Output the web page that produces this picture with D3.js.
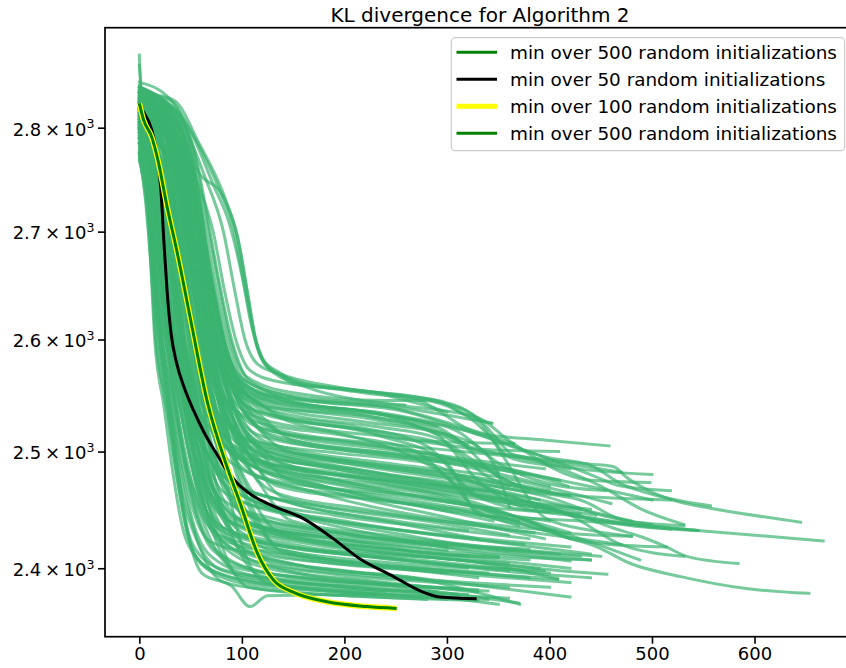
<!DOCTYPE html>
<html lang="en">
<head>
  <meta charset="utf-8">
  <title>KL divergence for Algorithm 2</title>
  <script src="https://d3js.org/d3.v7.min.js"></script>
  <style>
  body { margin: 0; background: #fff; }
  svg { font-family: "DejaVu Sans", sans-serif; }
  </style>
</head>
<body>
  <script>
  // runs: [iteration, KL divergence]
  var runsLow = [
    [[0,2772],[6,2730],[11,2670],[15,2600],[24,2540],[33,2480],[42,2435],[55,2410],[80,2395],[140,2385],[230,2378]],
    [[0,2778],[8,2725],[13,2650],[18,2590],[28,2530],[38,2470],[48,2425],[65,2400],[110,2386],[200,2380],[290,2376],[350,2370]],
    [[0,2785],[9,2730],[14,2660],[20,2600],[30,2545],[40,2490],[52,2440],[70,2410],[120,2392],[210,2384],[320,2378]],
    [[0,2790],[10,2735],[15,2670],[22,2610],[32,2555],[42,2500],[55,2450],[75,2415],[130,2395],[250,2385],[370,2371]],
    [[0,2795],[11,2740],[17,2670],[24,2610],[35,2560],[46,2510],[58,2460],[80,2420],[125,2400],[220,2390],[330,2380]],
    [[0,2800],[12,2745],[19,2680],[27,2620],[38,2570],[50,2515],[63,2465],[85,2425],[140,2405],[260,2393],[420,2376]],
    [[0,2780],[10,2720],[16,2640],[22,2580],[31,2530],[40,2470],[50,2420],[62,2395],[90,2385],[108,2368],[125,2377],[220,2378],[300,2374]],
    [[0,2808],[13,2750],[21,2680],[30,2610],[42,2560],[55,2505],[70,2455],[95,2420],[160,2402],[280,2390],[371,2370]],
    [[0,2775],[9,2722],[14,2650],[20,2590],[29,2540],[38,2480],[47,2430],[60,2405],[100,2390],[170,2383],[240,2380]],
    [[0,2812],[14,2755],[22,2690],[32,2620],[45,2565],[58,2510],[75,2460],[100,2430],[170,2410],[300,2398],[408,2391]],
    [[0,2798],[12,2742],[18,2675],[26,2615],[37,2565],[48,2515],[60,2465],[78,2425],[120,2408],[200,2398],[280,2390]],
    [[0,2788],[10,2730],[16,2655],[23,2595],[33,2545],[44,2490],[56,2445],[72,2415],[115,2398],[190,2390],[340,2381]],
    [[0,2802],[12,2748],[19,2675],[27,2612],[38,2562],[49,2508],[62,2458],[82,2422],[135,2400],[230,2388],[310,2383]],
    [[0,2770],[7,2725],[12,2660],[16,2598],[26,2545],[35,2488],[45,2438],[58,2412],[85,2398],[150,2390],[260,2385]]
  ];

  var runsLowMid = [
    [[0,2798],[8,2770],[18,2705],[25,2630],[35,2565],[47,2505],[60,2460],[80,2435],[150,2420],[250,2408],[350,2398],[440,2392]],
    [[0,2784],[7,2760],[16,2695],[23,2620],[33,2558],[45,2498],[58,2452],[78,2428],[140,2415],[240,2405],[320,2400]],
    [[0,2812],[10,2785],[21,2712],[29,2638],[39,2572],[51,2512],[65,2465],[88,2440],[160,2425],[260,2415],[380,2407]],
    [[0,2803],[12,2778],[24,2708],[32,2635],[43,2568],[55,2508],[70,2462],[92,2438],[170,2422],[280,2410],[410,2398],[456,2395]],
    [[0,2776],[6,2752],[14,2690],[20,2615],[30,2552],[41,2492],[53,2448],[70,2422],[130,2410],[220,2402],[300,2396]],
    [[0,2818],[14,2792],[27,2718],[35,2642],[46,2575],[58,2515],[73,2468],[96,2442],[180,2428],[300,2418],[420,2406]],
    [[0,2792],[11,2768],[22,2700],[30,2625],[40,2562],[52,2502],[66,2456],[86,2432],[150,2418],[230,2412],[330,2405],[408,2391]],
    [[0,2808],[16,2785],[30,2712],[38,2638],[49,2572],[62,2512],[78,2466],[102,2440],[190,2425],[290,2412],[350,2409]],
    [[0,2786],[9,2762],[19,2696],[26,2622],[36,2560],[48,2500],[62,2454],[84,2430],[160,2416],[260,2408],[400,2396]],
    [[0,2822],[18,2798],[32,2722],[40,2646],[51,2580],[64,2520],[80,2472],[105,2445],[200,2430],[310,2420],[380,2416]],
    [[0,2797],[13,2772],[26,2704],[34,2630],[45,2566],[57,2506],[72,2460],[94,2436],[170,2420],[270,2410],[360,2404]],
    [[0,2815],[20,2792],[35,2718],[44,2642],[55,2576],[68,2516],[84,2470],[110,2445],[210,2428],[320,2418],[430,2410]]
  ];

  var runsMid = [
    [[0,2815],[12,2790],[25,2720],[33,2650],[44,2580],[58,2520],[80,2480],[150,2455],[240,2440],[330,2425]],
    [[0,2805],[14,2780],[28,2715],[36,2645],[48,2575],[62,2515],[85,2470],[160,2445],[260,2428],[350,2415],[440,2407]],
    [[0,2825],[15,2800],[30,2730],[39,2655],[50,2590],[66,2530],[90,2490],[170,2465],[270,2445],[330,2438],[406,2432]],
    [[0,2790],[10,2765],[22,2705],[30,2630],[42,2565],[56,2505],[78,2460],[140,2440],[230,2425],[300,2418]],
    [[0,2820],[16,2800],[33,2730],[42,2650],[54,2585],[70,2530],[95,2495],[180,2470],[290,2450],[380,2438],[430,2425],[488,2407]],
    [[0,2810],[18,2790],[35,2725],[44,2655],[56,2590],[72,2535],[98,2500],[170,2480],[280,2460],[350,2448]],
    [[0,2830],[20,2810],[38,2735],[47,2660],[58,2595],[74,2540],[100,2505],[190,2485],[300,2470],[360,2462],[420,2445],[480,2436],[545,2432]],
    [[0,2800],[15,2775],[30,2710],[38,2640],[50,2575],[65,2515],[88,2475],[150,2455],[250,2440],[320,2432]],
    [[0,2795],[13,2772],[27,2705],[35,2635],[46,2570],[60,2510],[82,2465],[150,2445],[270,2422],[340,2412],[440,2407]],
    [[0,2818],[17,2798],[34,2728],[43,2652],[55,2588],[71,2532],[96,2495],[200,2470],[320,2455],[380,2440],[420,2425],[460,2420],[514,2418]],
    [[0,2835],[22,2815],[40,2740],[50,2665],[61,2600],[77,2545],[103,2510],[200,2490],[310,2475],[400,2460],[450,2445],[500,2437]],
    [[0,2808],[20,2785],[37,2720],[46,2648],[58,2582],[74,2528],[100,2492],[180,2470],[280,2452],[345,2440]],
    [[0,2828],[24,2808],[42,2735],[51,2660],[62,2598],[79,2545],[105,2510],[200,2492],[300,2478],[370,2466],[430,2458],[475,2440],[531,2436]],
    [[0,2812],[21,2790],[39,2722],[48,2650],[60,2585],[76,2530],[102,2495],[190,2475],[300,2460],[410,2430],[480,2427]],
    [[0,2822],[26,2800],[45,2730],[54,2655],[65,2592],[81,2540],[108,2505],[210,2485],[330,2465],[420,2445],[470,2420],[531,2410]],
    [[0,2800],[25,2782],[44,2715],[53,2645],[64,2580],[80,2525],[106,2490],[190,2465],[290,2445],[395,2425]],
    [[0,2815],[28,2795],[48,2725],[57,2650],[68,2588],[84,2535],[110,2502],[210,2482],[320,2465],[400,2450],[456,2440],[518,2433]],
    [[0,2805],[30,2785],[50,2715],[59,2645],[70,2582],[86,2528],[112,2495],[220,2475],[330,2455],[420,2425]],
    [[0,2840],[30,2818],[52,2740],[61,2665],[72,2600],[88,2548],[115,2515],[210,2500],[300,2490],[400,2470]],
    [[0,2825],[33,2800],[55,2728],[64,2655],[75,2592],[91,2540],[118,2508],[220,2490],[320,2478],[360,2470]],
    [[0,2812],[35,2790],[58,2720],[67,2648],[78,2585],[94,2535],[120,2502],[230,2482],[340,2468],[430,2450],[480,2440]],
    [[0,2790],[32,2772],[54,2705],[63,2635],[74,2575],[90,2522],[116,2490],[210,2470],[330,2452],[420,2430]],
    [[0,2862],[3,2830],[33,2818],[52,2748],[62,2672],[74,2606],[92,2552],[122,2520],[230,2505],[330,2492],[395,2485]],
    [[0,2818],[34,2795],[55,2722],[65,2650],[77,2588],[95,2538],[125,2508],[240,2490],[350,2478],[460,2455]],
    [[0,2830],[36,2805],[57,2732],[67,2658],[79,2595],[97,2545],[128,2515],[250,2498],[360,2485],[418,2470]],
    [[0,2806],[32,2786],[52,2712],[62,2640],[74,2578],[92,2528],[122,2495],[230,2475],[340,2460],[445,2445]],
    [[0,2835],[38,2810],[58,2735],[68,2660],[81,2598],[99,2548],[130,2520],[260,2505],[370,2495],[470,2482]],
    [[0,2820],[40,2798],[60,2725],[70,2652],[83,2590],[101,2542],[132,2512],[260,2495],[380,2480],[500,2458]]
  ];

  var runsMore = [
    [[0,2800],[9,2780],[20,2700],[28,2640],[38,2585],[50,2535],[68,2495],[95,2470],[180,2452],[280,2440],[360,2428]],
    [[0,2806],[10,2785],[24,2700],[32,2632],[42,2572],[54,2515],[72,2468],[99,2440],[170,2425],[260,2415],[320,2410]],
    [[0,2818],[13,2798],[28,2700],[36,2642],[46,2590],[58,2548],[76,2520],[103,2500],[200,2485],[300,2472],[390,2458]],
    [[0,2795],[14,2778],[32,2700],[40,2628],[50,2560],[62,2500],[80,2450],[107,2418],[180,2405],[270,2398],[330,2392]],
    [[0,2826],[17,2805],[36,2700],[44,2640],[54,2584],[66,2538],[84,2505],[111,2480],[210,2465],[320,2450],[400,2440]],
    [[0,2810],[19,2792],[40,2700],[48,2636],[58,2576],[70,2522],[88,2482],[115,2455],[200,2440],[290,2428],[375,2420]],
    [[0,2832],[22,2812],[44,2700],[52,2645],[62,2596],[74,2560],[92,2538],[119,2520],[210,2508],[300,2495],[350,2482]],
    [[0,2815],[24,2796],[48,2700],[56,2632],[66,2568],[78,2508],[96,2462],[123,2432],[200,2418],[300,2408],[390,2400]],
    [[0,2822],[24,2802],[45,2700],[56,2640],[69,2586],[83,2545],[100,2518],[127,2500],[220,2488],[330,2475],[420,2462]],
    [[0,2804],[24,2788],[48,2700],[59,2636],[72,2578],[86,2528],[104,2490],[131,2465],[220,2450],[310,2438],[385,2430]],
    [[0,2836],[25,2815],[50,2700],[61,2646],[74,2598],[88,2565],[108,2548],[135,2535],[230,2522],[290,2512],[330,2490],[370,2470],[420,2462]],
    [[0,2818],[26,2800],[52,2700],[63,2640],[76,2585],[90,2540],[112,2510],[139,2490],[230,2476],[330,2462],[440,2450]],
    [[0,2828],[28,2810],[55,2700],[66,2642],[79,2592],[93,2555],[116,2530],[143,2515],[240,2502],[330,2490],[410,2475]],
    [[0,2834],[29,2815],[57,2700],[68,2646],[81,2600],[95,2570],[120,2555],[147,2545],[250,2532],[310,2518],[350,2490],[400,2472],[455,2466]],
    [[0,2826],[30,2808],[60,2700],[71,2642],[84,2594],[98,2560],[124,2538],[151,2525],[250,2512],[340,2500],[420,2485]],
    [[0,2790],[8,2770],[18,2700],[25,2625],[34,2556],[45,2490],[62,2440],[89,2402],[160,2392],[250,2386],[330,2382]],
    [[0,2798],[10,2778],[22,2700],[30,2628],[40,2565],[52,2505],[70,2460],[97,2428],[180,2414],[280,2405],[360,2398]],
    [[0,2812],[12,2790],[26,2700],[34,2635],[44,2578],[56,2525],[74,2484],[101,2456],[190,2440],[300,2428],[420,2418]],
    [[0,2785],[13,2768],[30,2700],[37,2622],[46,2548],[57,2480],[74,2425],[101,2392],[180,2384],[270,2380],[310,2378]],
    [[0,2830],[16,2810],[34,2700],[42,2645],[52,2595],[64,2555],[82,2528],[109,2510],[200,2498],[280,2490],[330,2472],[380,2456],[430,2450]],
    [[0,2793],[18,2776],[38,2700],[45,2625],[55,2555],[66,2492],[84,2438],[111,2406],[190,2395],[290,2388],[360,2384]],
    [[0,2808],[21,2790],[42,2700],[50,2634],[60,2572],[72,2516],[90,2470],[117,2440],[200,2428],[300,2420],[410,2412]],
    [[0,2820],[23,2800],[46,2700],[54,2638],[64,2582],[76,2534],[94,2500],[121,2476],[220,2460],[320,2448],[370,2436]],
    [[0,2802],[22,2786],[44,2700],[55,2628],[68,2560],[82,2498],[98,2448],[125,2416],[210,2405],[300,2398],[380,2392]],
    [[0,2814],[23,2795],[46,2700],[57,2634],[70,2574],[84,2520],[102,2478],[129,2450],[220,2436],[330,2424],[440,2412]],
    [[0,2824],[25,2806],[49,2700],[60,2640],[73,2584],[87,2538],[106,2505],[133,2485],[230,2472],[340,2458],[400,2450]],
    [[0,2810],[26,2792],[51,2700],[62,2630],[75,2566],[89,2508],[110,2460],[137,2430],[220,2418],[330,2408],[420,2400]],
    [[0,2816],[27,2798],[54,2700],[65,2636],[78,2578],[92,2528],[114,2488],[141,2460],[240,2446],[350,2434],[470,2420]],
    [[0,2830],[28,2810],[56,2700],[67,2640],[80,2588],[94,2548],[118,2518],[145,2500],[240,2488],[340,2476],[400,2466]],
    [[0,2812],[29,2796],[58,2700],[69,2632],[82,2570],[96,2512],[122,2466],[149,2440],[240,2428],[340,2418],[450,2410]],
    [[0,2774],[6,2752],[14,2700],[20,2622],[29,2550],[40,2480],[56,2425],[83,2388],[150,2380],[230,2376],[280,2374]],
    [[0,2782],[7,2762],[16,2700],[23,2626],[32,2560],[43,2500],[60,2452],[87,2422],[160,2410],[250,2402],[340,2396]],
    [[0,2768],[5,2748],[12,2700],[18,2620],[27,2548],[38,2478],[54,2428],[81,2398],[150,2388],[220,2384],[290,2380]],
    [[0,2800],[22,2785],[45,2700],[52,2622],[61,2550],[72,2484],[90,2430],[117,2394],[200,2384],[290,2378],[360,2375]],
    [[0,2796],[17,2779],[35,2700],[42,2620],[51,2546],[62,2478],[80,2420],[107,2384],[180,2378],[260,2375],[330,2373]],
    [[0,2808],[24,2790],[47,2700],[58,2626],[71,2556],[85,2492],[102,2440],[129,2404],[220,2394],[320,2388],[400,2384]],
    [[0,2812],[27,2796],[53,2700],[64,2628],[77,2560],[91,2498],[112,2448],[139,2414],[230,2402],[330,2394],[420,2388]],
    [[0,2820],[25,2802],[50,2700],[61,2638],[74,2580],[88,2532],[108,2496],[135,2470],[230,2458],[320,2448],[370,2440]],
    [[0,2834],[20,2815],[40,2700],[48,2648],[58,2602],[70,2566],[88,2542],[115,2526],[200,2514],[270,2500],[310,2470],[360,2452],[400,2448]],
    [[0,2840],[25,2820],[50,2700],[58,2650],[68,2605],[80,2574],[98,2556],[125,2545],[220,2532],[300,2515],[320,2505]],
    [[0,2816],[15,2796],[30,2700],[38,2636],[48,2580],[60,2528],[78,2488],[105,2460],[190,2445],[290,2434],[380,2425]],
    [[0,2826],[24,2806],[48,2700],[56,2640],[66,2586],[78,2540],[96,2510],[123,2490],[210,2478],[300,2470],[340,2466]],
    [[0,2806],[25,2790],[49,2700],[60,2630],[73,2564],[87,2504],[106,2454],[133,2420],[220,2410],[310,2402],[395,2398]],
    [[0,2824],[28,2806],[56,2700],[67,2638],[80,2582],[94,2535],[118,2500],[145,2476],[250,2462],[360,2450],[430,2446]],
    [[0,2824],[13,2804],[26,2700],[34,2642],[44,2588],[56,2543],[74,2514],[101,2495],[190,2482],[280,2470],[325,2466]],
    [[0,2804],[19,2786],[38,2700],[46,2632],[56,2570],[68,2512],[86,2466],[113,2436],[200,2424],[300,2414],[350,2410]],
    [[0,2836],[26,2816],[51,2700],[62,2646],[75,2598],[89,2562],[110,2542],[137,2530],[230,2518],[300,2505],[340,2478],[380,2466]],
    [[0,2802],[10,2782],[20,2700],[28,2630],[38,2570],[50,2512],[68,2466],[95,2440],[180,2426],[270,2418],[300,2415]],
    [[0,2800],[23,2784],[45,2700],[56,2622],[69,2550],[83,2484],[97,2428],[124,2388],[210,2380],[290,2376],[340,2374]],
    [[0,2828],[30,2810],[59,2700],[70,2644],[83,2594],[97,2556],[123,2528],[150,2510],[250,2498],[330,2488],[375,2480]]
  ];

  var runsHigh = [
    [[0,2830],[28,2812],[45,2772],[57,2712],[68,2652],[80,2598],[96,2562],[125,2547],[220,2535],[290,2522],[332,2502],[409,2500]],
    [[0,2822],[26,2805],[43,2766],[55,2706],[66,2646],[78,2592],[94,2556],[122,2540],[230,2530],[290,2515],[330,2475],[380,2450],[420,2445],[495,2436],[545,2432]],
    [[0,2840],[30,2818],[47,2776],[59,2714],[70,2654],[82,2600],[98,2563],[130,2550],[250,2538],[320,2520],[365,2507]],
    [[0,2815],[24,2798],[41,2758],[53,2698],[64,2640],[76,2587],[92,2553],[118,2535],[210,2522],[280,2505],[330,2462],[398,2450],[430,2444],[462,2434],[488,2427],[514,2418],[534,2410],[584,2404]],
    [[0,2835],[30,2815],[48,2774],[60,2712],[71,2652],[83,2598],[100,2561],[135,2548],[260,2538],[343,2525]],
    [[0,2826],[32,2808],[49,2768],[61,2707],[72,2647],[84,2594],[101,2559],[140,2545],[240,2532],[300,2512],[332,2500],[365,2497],[420,2486],[500,2480]],
    [[0,2818],[27,2800],[44,2761],[56,2702],[67,2642],[79,2590],[95,2556],[130,2542],[230,2528],[310,2510],[350,2478],[420,2462],[518,2458]],
    [[0,2832],[34,2812],[51,2771],[63,2710],[74,2652],[86,2600],[103,2563],[145,2550],[260,2540],[330,2530],[360,2510],[440,2475],[498,2473]],
    [[0,2810],[22,2795],[39,2754],[51,2694],[62,2634],[74,2582],[89,2549],[115,2530],[200,2515],[260,2498],[300,2478],[332,2447],[383,2435],[413,2427],[446,2418],[479,2404],[528,2393],[592,2383],[653,2379]],
    [[0,2825],[30,2806],[47,2766],[59,2706],[70,2647],[82,2594],[98,2559],[132,2544],[240,2532],[320,2518],[380,2500],[440,2480],[470,2470],[518,2466]],
    [[0,2838],[36,2816],[53,2776],[65,2714],[76,2657],[88,2602],[105,2566],[150,2552],[240,2545],[277,2545],[310,2536],[326,2527],[342,2513],[361,2495],[407,2486],[450,2470],[490,2450],[531,2437]],
    [[0,2812],[25,2796],[42,2756],[54,2696],[65,2638],[77,2586],[92,2551],[118,2534],[210,2520],[270,2510],[365,2507]],
    [[0,2828],[32,2810],[49,2768],[61,2708],[72,2650],[84,2597],[101,2561],[138,2546],[230,2534],[290,2522]],
    [[0,2820],[29,2802],[46,2764],[58,2704],[69,2644],[81,2592],[97,2557],[128,2540],[220,2526],[300,2515],[332,2503],[345,2490],[361,2452]],
    [[0,2816],[33,2796],[50,2758],[62,2702],[73,2642],[85,2590],[101,2553],[130,2535],[230,2515],[300,2490],[332,2445],[365,2443],[430,2440],[495,2436],[544,2432],[667,2423]],
    [[0,2836],[38,2815],[55,2772],[67,2710],[78,2652],[90,2600],[107,2563],[150,2548],[260,2535],[330,2515],[397,2495],[440,2488],[470,2472],[500,2463],[557,2453]]
  ];

  var runsLate = [
    [[0,2842],[4,2837],[33,2825],[46,2798],[56,2760],[82,2733],[95,2698],[105,2645],[113,2600],[122,2578],[137,2568],[150,2560],[202,2555],[261,2549],[300,2543],[332,2528],[345,2515],[365,2497],[397,2493],[440,2489],[462,2487],[476,2477],[502,2464],[528,2456],[557,2451],[645,2439]],
    [[0,2838],[4,2834],[30,2822],[50,2796],[72,2745],[88,2707],[100,2659],[110,2610],[120,2582],[137,2570],[160,2558],[259,2541]],
    [[0,2872],[2,2838],[35,2826],[58,2785],[85,2728],[97,2690],[106,2640],[114,2598],[125,2575],[150,2562],[230,2552],[300,2535]],
    [[0,2832],[28,2820],[46,2796],[64,2752],[82,2700],[93,2645],[103,2600],[115,2578],[140,2568],[200,2556],[290,2545],[330,2528],[344,2525]],
    [[0,2845],[30,2828],[54,2790],[78,2740],[92,2702],[102,2652],[112,2605],[122,2580],[145,2565],[210,2553],[300,2542],[332,2526],[352,2500],[397,2442],[440,2432],[480,2427]],
    [[0,2828],[25,2815],[42,2785],[56,2748],[72,2700],[83,2645],[94,2600],[108,2572],[135,2562],[200,2555],[270,2546],[332,2516],[397,2510],[458,2505]]
  ];

  // min over 50 initializations
  var min50 = [[0,2822],[3,2817],[12,2798],[17,2775],[21,2740],[24,2690],[27,2645],[31,2605],[36,2580],[44,2556],[53,2536],[63,2517],[74,2500],[85,2484],[96,2472],[110,2462],[130,2453],[160,2442],[189,2425],[215,2408],[248,2393],[274,2381],[293,2376],[329,2374.5]];
  // min over 100 and over 500 initializations (same run)
  var min500 = [[0,2824],[4,2808],[12,2791],[18,2769],[27,2724],[37,2680],[50,2618],[66,2545],[85,2488],[98,2456],[115,2413],[131,2390],[150,2380],[183,2372],[222,2368],[251,2366.5]];

  var yTicks = [2400, 2500, 2600, 2700, 2800];
  var xTicks = [0, 100, 200, 300, 400, 500, 600];
  var legendLabels = [
    "min over 500 random initializations",
    "min over 50 random initializations",
    "min over 100 random initializations",
    "min over 500 random initializations"
  ];

  var width = 846, height = 668;
  var plotL = 105, plotR = 855, plotT = 27.7, plotB = 636.7;

  var svg = d3.select("body").append("svg")
    .attr("width", width)
    .attr("height", height);

  var x = d3.scaleLinear().domain([-33.5, 698]).range([plotL, plotR]);
  var y = d3.scaleLog().domain([2343.2, 2899.7]).range([plotB, plotT]);

  var line = d3.line()
    .x(function(d) { return x(d[0]); })
    .y(function(d) { return y(d[1]); })
    .curve(d3.curveMonotoneX);

  var allRuns = runsLow.concat(runsLowMid, runsMid, runsMore, runsHigh, runsLate);

  svg.append("g")
    .selectAll("path")
    .data(allRuns)
    .enter().append("path")
    .attr("d", line)
    .attr("fill", "none")
    .attr("stroke", "mediumseagreen")
    .attr("stroke-opacity", 0.7)
    .attr("stroke-width", 3)
    .attr("stroke-linecap", "square");

  svg.append("path")
    .attr("d", line(min50))
    .attr("fill", "none")
    .attr("stroke", "black")
    .attr("stroke-width", 3);

  svg.append("path")
    .attr("d", line(min500))
    .attr("fill", "none")
    .attr("stroke", "yellow")
    .attr("stroke-width", 5.5);

  svg.append("path")
    .attr("d", line(min500))
    .attr("fill", "none")
    .attr("stroke", "green")
    .attr("stroke-width", 3);

  // axes
  var xAxis = svg.append("g")
    .attr("transform", "translate(0," + plotB + ")")
    .call(d3.axisBottom(x).tickValues(xTicks).tickSize(7).tickSizeOuter(0).tickPadding(4));

  var yAxis = svg.append("g")
    .attr("transform", "translate(" + plotL + ",0)")
    .call(d3.axisLeft(y).tickValues(yTicks).tickSize(7).tickSizeOuter(0).tickFormat(""));

  [xAxis, yAxis].forEach(function(g) {
    g.select(".domain").remove();
    g.selectAll(".tick line").attr("stroke", "black").attr("stroke-width", 1.6);
  });

  xAxis.selectAll(".tick text")
    .attr("font-size", 18)
    .attr("font-family", "DejaVu Sans")
    .attr("fill", "black");

  yAxis.selectAll(".tick").each(function(d) {
    var t = d3.select(this).append("text")
      .attr("x", -10.5)
      .attr("y", 7.3)
      .attr("text-anchor", "end")
      .attr("font-size", 18)
      .attr("font-family", "DejaVu Sans")
      .attr("fill", "black");
    t.append("tspan").text((d / 1000).toFixed(1) + "\u2009\u00d7\u200910");
    t.append("tspan").attr("font-size", 12.6).attr("dy", -7.5).text("3");
  });

  svg.append("rect")
    .attr("x", plotL)
    .attr("y", plotT)
    .attr("width", plotR - plotL)
    .attr("height", plotB - plotT)
    .attr("fill", "none")
    .attr("stroke", "black")
    .attr("stroke-width", 1.7);

  svg.append("text")
    .attr("x", (plotL + plotR) / 2)
    .attr("y", 21.5)
    .attr("text-anchor", "middle")
    .attr("font-size", 20)
    .text("KL divergence for Algorithm 2");

  // legend
  var legendColors = ["green", "black", "yellow", "green"];
  var legendWidths = [3, 3, 5, 3];
  var legend = svg.append("g");

  legend.append("rect")
    .attr("x", 451.3)
    .attr("y", 37.7)
    .attr("width", 393.4)
    .attr("height", 113)
    .attr("rx", 4)
    .attr("fill", "white")
    .attr("fill-opacity", 0.8)
    .attr("stroke", "#cccccc")
    .attr("stroke-width", 1.2);

  var rows = legend.selectAll(".row")
    .data(legendLabels)
    .enter().append("g")
    .attr("transform", function(d, i) { return "translate(0," + (52.3 + i * 27) + ")"; });

  rows.append("line")
    .attr("x1", 456.5)
    .attr("x2", 497)
    .attr("stroke", function(d, i) { return legendColors[i]; })
    .attr("stroke-width", function(d, i) { return legendWidths[i]; });

  rows.append("text")
    .attr("x", 510)
    .attr("y", 7)
    .attr("font-size", 18.4)
    .text(function(d) { return d; });
  </script>
</body>
</html>
